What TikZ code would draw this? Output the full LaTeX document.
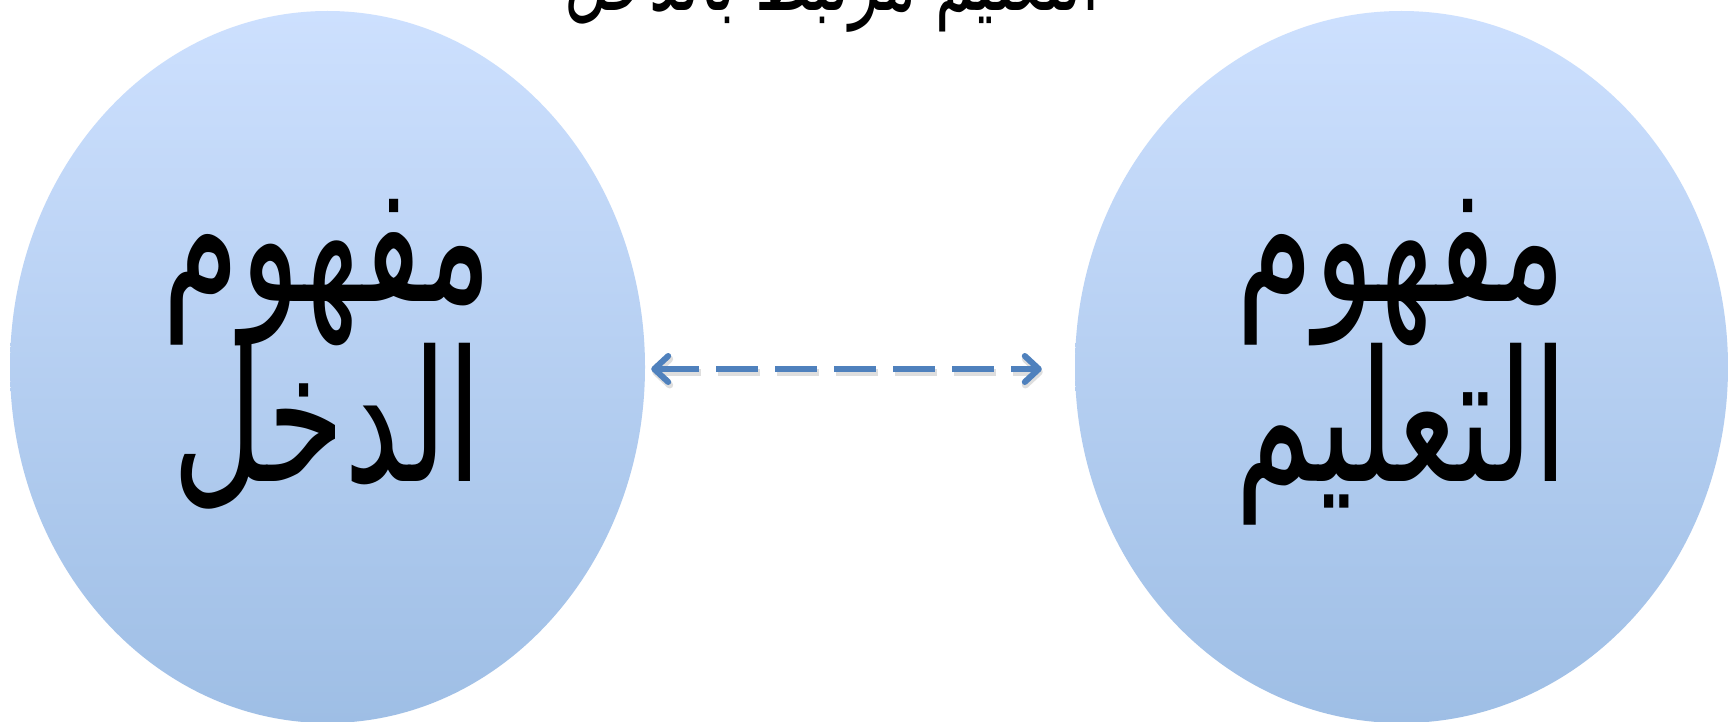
\documentclass[tikz,border=0pt]{standalone}
\usepackage{fontspec}
\newfontfamily\arabicfont[Script=Arabic]{DejaVu Sans}
\TeXXeTstate=1
\usetikzlibrary{shapes.geometric,arrows.meta}
\definecolor{topblue}{RGB}{205,224,254}
\definecolor{botblue}{RGB}{158,190,229}
\definecolor{arrowblue}{RGB}{79,129,189}
\newcommand{\tallar}[1]{\scalebox{0.96}[1.4]{\beginR #1\endR}}
\begin{document}
\begin{tikzpicture}[x=1pt,y=-1pt,
  bubble/.style={ellipse, inner sep=0pt, draw=none, top color=topblue, bottom color=botblue},
  biglabel/.style={font=\arabicfont\fontsize{130}{160}\selectfont, inner sep=0pt, anchor=base},
  toplabel/.style={font=\arabicfont\fontsize{64}{80}\selectfont, inner sep=0pt, anchor=base},
  link/.style={arrowblue, line width=6pt, dash pattern=on 42pt off 17pt,
    {Straight Barb[round,length=14pt,width=26pt]}-{Straight Barb[round,length=14pt,width=26pt]}},
  linkshadow/.style={black, opacity=0.13, line width=7pt, dash pattern=on 42pt off 17pt,
    {Straight Barb[round,length=14pt,width=26pt]}-{Straight Barb[round,length=14pt,width=26pt]}}
]
\useasboundingbox (0,0) rectangle (1729,722);
\fill[white] (0,0) rectangle (1729,722);
\node[bubble, minimum width=635pt, minimum height=712pt] (L) at (327.5,367) {};
\node[bubble, minimum width=653pt, minimum height=712pt] (R) at (1401.5,367) {};
\node[toplabel] (title) at (832,11) {\tallar{التعليم مرتبط بالدخل}};
\node[biglabel] (l1) at (327.5,301) {\tallar{مفهوم}};
\node[biglabel] (l2) at (327.5,481) {\tallar{الدخل}};
\node[biglabel] (r1) at (1401.5,301) {\tallar{مفهوم}};
\node[biglabel] (r2) at (1401.5,481) {\tallar{التعليم}};
\draw[linkshadow] ([xshift=7pt,yshift=-5pt]L.east) -- ([xshift=-32pt,yshift=-5pt]R.west);
\draw[link] ([xshift=6pt,yshift=-2pt]L.east) -- ([xshift=-33pt,yshift=-2pt]R.west);
\end{tikzpicture}
\end{document}
